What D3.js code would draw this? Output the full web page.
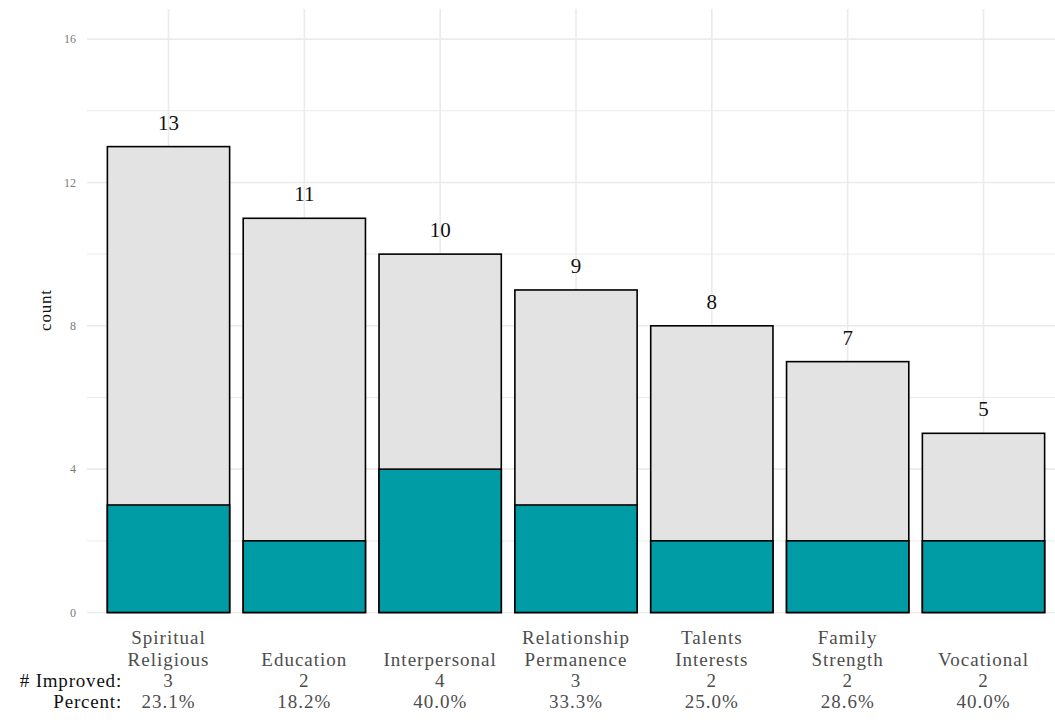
<!DOCTYPE html>
<html>
<head>
<meta charset="utf-8">
<script src="https://cdn.jsdelivr.net/npm/d3@7"></script>
<style>
  html, body { margin: 0; padding: 0; background: #fff; }
  svg { display: block; }
  text { font-family: "Liberation Serif", "Times New Roman", serif; }
</style>
</head>
<body>
<svg id="chart" width="1055" height="723"></svg>
<script>
// ---- data ----
const categories = ["Spiritual\nReligious", "Education", "Interpersonal", "Relationship\nPermanence", "Talents\nInterests", "Family\nStrength", "Vocational"];
const totals = [13, 11, 10, 9, 8, 7, 5];
const improved = [3, 2, 4, 3, 2, 2, 2];
const yTicks = [0, 4, 8, 12, 16];
const yMinor = [2, 6, 10, 14];
const rowLabels = ["# Improved:", "Percent:"];

// ---- layout ----
const W = 1055, H = 723;
const panel = { left: 87, right: 1065, top: 9, bottom: 613 };
const svg = d3.select("#chart");

const x = d3.scalePoint().domain(categories).range([panel.left, panel.right]).padding(0.6);
const barW = x.step() * 0.9;
const y = d3.scaleLinear().domain([0, 16.84]).range([612.5, panel.top]);

// grid
const grid = svg.append("g");
grid.selectAll(".minor").data(yMinor).join("line")
  .attr("x1", panel.left).attr("x2", W)
  .attr("y1", d => y(d)).attr("y2", d => y(d))
  .attr("stroke", "#ebebeb").attr("stroke-width", 1);
grid.selectAll(".major").data(yTicks).join("line")
  .attr("x1", panel.left).attr("x2", W)
  .attr("y1", d => y(d)).attr("y2", d => y(d))
  .attr("stroke", "#ebebeb").attr("stroke-width", 1.6);
grid.selectAll(".vx").data(categories).join("line")
  .attr("x1", d => x(d)).attr("x2", d => x(d))
  .attr("y1", panel.top).attr("y2", y(0))
  .attr("stroke", "#ebebeb").attr("stroke-width", 1.6);

// y axis tick labels
svg.append("g").selectAll("text").data(yTicks).join("text")
  .attr("x", 76).attr("y", d => y(d)).attr("dy", "0.35em")
  .attr("text-anchor", "end").attr("font-size", 12).attr("fill", "#7a7a7a")
  .text(d => d);

// y axis title
svg.append("text")
  .attr("transform", `translate(51, 310) rotate(-90)`)
  .attr("text-anchor", "middle").attr("font-size", 17).attr("letter-spacing", 0.8)
  .attr("fill", "#111").text("count");

// bars
const bars = svg.append("g");
bars.selectAll(".tot").data(categories).join("rect")
  .attr("x", d => x(d) - barW / 2).attr("width", barW)
  .attr("y", (d, i) => y(totals[i])).attr("height", (d, i) => y(0) - y(totals[i]))
  .attr("fill", "#e3e3e3").attr("stroke", "#000").attr("stroke-width", 1.6);
bars.selectAll(".imp").data(categories).join("rect")
  .attr("x", d => x(d) - barW / 2).attr("width", barW)
  .attr("y", (d, i) => y(improved[i])).attr("height", (d, i) => y(0) - y(improved[i]))
  .attr("fill", "#009ca6").attr("stroke", "#000").attr("stroke-width", 1.6);

// value labels
svg.append("g").selectAll("text").data(categories).join("text")
  .attr("x", d => x(d)).attr("y", (d, i) => y(totals[i]) - 17)
  .attr("text-anchor", "middle").attr("font-size", 21).attr("fill", "#111")
  .text((d, i) => totals[i]);

// x axis labels (bottom aligned, multi-line)
const lineYs = [644, 666, 687, 708];
const xl = svg.append("g");
categories.forEach((c, i) => {
  const lines = c.split("\n").concat([String(improved[i]), (improved[i] / totals[i] * 100).toFixed(1) + "%"]);
  const start = lineYs.length - lines.length;
  lines.forEach((ln, j) => {
    xl.append("text")
      .attr("x", x(c)).attr("y", lineYs[start + j])
      .attr("text-anchor", "middle").attr("font-size", 19).attr("letter-spacing", 1.0)
      .attr("fill", "#4d4d4d").text(ln);
  });
});
rowLabels.forEach((t, j) => {
  xl.append("text")
    .attr("x", 122).attr("y", lineYs[2 + j])
    .attr("text-anchor", "end").attr("font-size", 19).attr("letter-spacing", 0.8)
    .attr("fill", "#111").text(t);
});
</script>
</body>
</html>
